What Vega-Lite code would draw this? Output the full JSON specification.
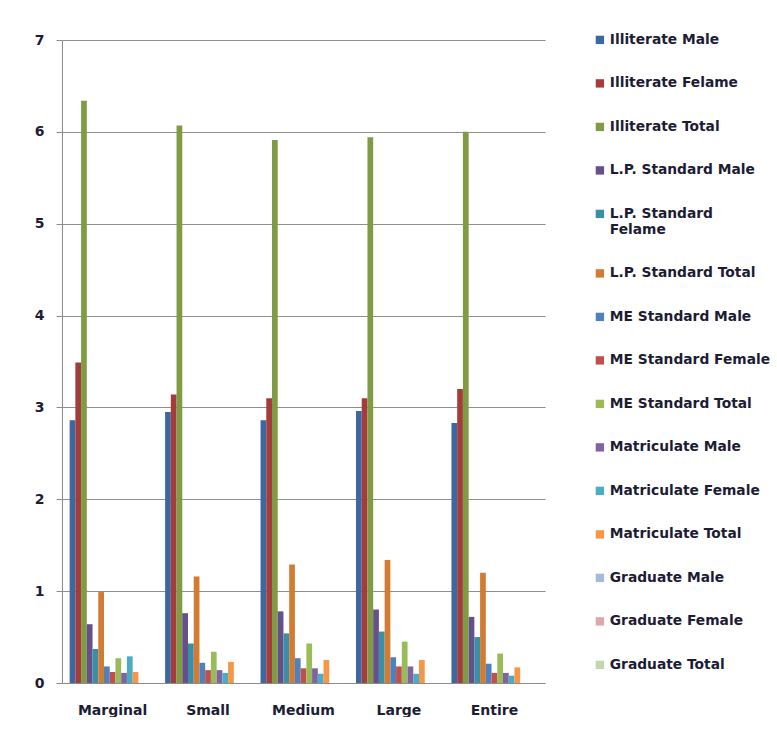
{
  "$schema": "https://vega.github.io/schema/vega-lite/v6.json",
  "width": 483,
  "height": 643,
  "padding": {"left": 34, "top": 33, "right": 0, "bottom": 0},
  "background": "white",
  "config": {
    "font": "DejaVu Sans",
    "view": {"stroke": null},
    "axis": {"labelFont": "DejaVu Sans", "labelFontWeight": "bold", "labelColor": "#1c1c34", "domainColor": "#8c8c8c", "tickColor": "#8c8c8c", "gridColor": "#8f8f8f"}
  },
  "data": {
    "values": [
      {"area": "Marginal", "series": "Illiterate Male", "value": 2.86},
      {"area": "Marginal", "series": "Illiterate Felame", "value": 3.49},
      {"area": "Marginal", "series": "Illiterate Total", "value": 6.34},
      {"area": "Marginal", "series": "L.P. Standard Male", "value": 0.64},
      {"area": "Marginal", "series": "L.P. Standard Felame", "value": 0.37},
      {"area": "Marginal", "series": "L.P. Standard  Total", "value": 0.99},
      {"area": "Marginal", "series": "ME Standard Male", "value": 0.18},
      {"area": "Marginal", "series": "ME Standard Female", "value": 0.12},
      {"area": "Marginal", "series": "ME Standard Total", "value": 0.27},
      {"area": "Marginal", "series": "Matriculate Male", "value": 0.11},
      {"area": "Marginal", "series": "Matriculate Female", "value": 0.29},
      {"area": "Marginal", "series": "Matriculate Total", "value": 0.12},
      {"area": "Marginal", "series": "Graduate Male", "value": 0},
      {"area": "Marginal", "series": "Graduate Female", "value": 0},
      {"area": "Marginal", "series": "Graduate Total", "value": 0},
      {"area": "Small", "series": "Illiterate Male", "value": 2.95},
      {"area": "Small", "series": "Illiterate Felame", "value": 3.14},
      {"area": "Small", "series": "Illiterate Total", "value": 6.07},
      {"area": "Small", "series": "L.P. Standard Male", "value": 0.76},
      {"area": "Small", "series": "L.P. Standard Felame", "value": 0.43},
      {"area": "Small", "series": "L.P. Standard  Total", "value": 1.16},
      {"area": "Small", "series": "ME Standard Male", "value": 0.22},
      {"area": "Small", "series": "ME Standard Female", "value": 0.14},
      {"area": "Small", "series": "ME Standard Total", "value": 0.34},
      {"area": "Small", "series": "Matriculate Male", "value": 0.14},
      {"area": "Small", "series": "Matriculate Female", "value": 0.11},
      {"area": "Small", "series": "Matriculate Total", "value": 0.23},
      {"area": "Small", "series": "Graduate Male", "value": 0},
      {"area": "Small", "series": "Graduate Female", "value": 0},
      {"area": "Small", "series": "Graduate Total", "value": 0},
      {"area": "Medium", "series": "Illiterate Male", "value": 2.86},
      {"area": "Medium", "series": "Illiterate Felame", "value": 3.10},
      {"area": "Medium", "series": "Illiterate Total", "value": 5.91},
      {"area": "Medium", "series": "L.P. Standard Male", "value": 0.78},
      {"area": "Medium", "series": "L.P. Standard Felame", "value": 0.54},
      {"area": "Medium", "series": "L.P. Standard  Total", "value": 1.29},
      {"area": "Medium", "series": "ME Standard Male", "value": 0.27},
      {"area": "Medium", "series": "ME Standard Female", "value": 0.16},
      {"area": "Medium", "series": "ME Standard Total", "value": 0.43},
      {"area": "Medium", "series": "Matriculate Male", "value": 0.16},
      {"area": "Medium", "series": "Matriculate Female", "value": 0.10},
      {"area": "Medium", "series": "Matriculate Total", "value": 0.25},
      {"area": "Medium", "series": "Graduate Male", "value": 0},
      {"area": "Medium", "series": "Graduate Female", "value": 0},
      {"area": "Medium", "series": "Graduate Total", "value": 0},
      {"area": "Large", "series": "Illiterate Male", "value": 2.96},
      {"area": "Large", "series": "Illiterate Felame", "value": 3.10},
      {"area": "Large", "series": "Illiterate Total", "value": 5.94},
      {"area": "Large", "series": "L.P. Standard Male", "value": 0.80},
      {"area": "Large", "series": "L.P. Standard Felame", "value": 0.56},
      {"area": "Large", "series": "L.P. Standard  Total", "value": 1.34},
      {"area": "Large", "series": "ME Standard Male", "value": 0.28},
      {"area": "Large", "series": "ME Standard Female", "value": 0.18},
      {"area": "Large", "series": "ME Standard Total", "value": 0.45},
      {"area": "Large", "series": "Matriculate Male", "value": 0.18},
      {"area": "Large", "series": "Matriculate Female", "value": 0.10},
      {"area": "Large", "series": "Matriculate Total", "value": 0.25},
      {"area": "Large", "series": "Graduate Male", "value": 0},
      {"area": "Large", "series": "Graduate Female", "value": 0},
      {"area": "Large", "series": "Graduate Total", "value": 0},
      {"area": "Entire", "series": "Illiterate Male", "value": 2.83},
      {"area": "Entire", "series": "Illiterate Felame", "value": 3.20},
      {"area": "Entire", "series": "Illiterate Total", "value": 6.00},
      {"area": "Entire", "series": "L.P. Standard Male", "value": 0.72},
      {"area": "Entire", "series": "L.P. Standard Felame", "value": 0.50},
      {"area": "Entire", "series": "L.P. Standard  Total", "value": 1.20},
      {"area": "Entire", "series": "ME Standard Male", "value": 0.21},
      {"area": "Entire", "series": "ME Standard Female", "value": 0.11},
      {"area": "Entire", "series": "ME Standard Total", "value": 0.32},
      {"area": "Entire", "series": "Matriculate Male", "value": 0.11},
      {"area": "Entire", "series": "Matriculate Female", "value": 0.08},
      {"area": "Entire", "series": "Matriculate Total", "value": 0.17},
      {"area": "Entire", "series": "Graduate Male", "value": 0},
      {"area": "Entire", "series": "Graduate Female", "value": 0},
      {"area": "Entire", "series": "Graduate Total", "value": 0}
    ]
  },
  "mark": {"type": "bar"},
  "encoding": {
    "x": {
      "field": "area",
      "type": "nominal",
      "sort": ["Marginal", "Small", "Medium", "Large", "Entire"],
      "scale": {"paddingInner": 0.1, "paddingOuter": 0.08},
      "axis": {"title": null, "labelAngle": 0, "labelFontSize": 14, "labelPadding": 20, "ticks": false, "domainColor": "#8c8c8c"}
    },
    "xOffset": {
      "field": "series",
      "type": "nominal",
      "sort": ["Illiterate Male", "Illiterate Felame", "Illiterate Total", "L.P. Standard Male", "L.P. Standard Felame", "L.P. Standard  Total", "ME Standard Male", "ME Standard Female", "ME Standard Total", "Matriculate Male", "Matriculate Female", "Matriculate Total", "Graduate Male", "Graduate Female", "Graduate Total"],
      "scale": {"paddingInner": 0, "paddingOuter": 0}
    },
    "y": {
      "field": "value",
      "type": "quantitative",
      "scale": {"domain": [0, 7], "nice": false},
      "axis": {"title": null, "values": [0, 1, 2, 3, 4, 5, 6, 7], "labelOverlap": false, "labelFontSize": 14, "tickSize": 6, "labelPadding": 12, "grid": true}
    },
    "color": {
      "field": "series",
      "type": "nominal",
      "scale": {
        "domain": ["Illiterate Male", "Illiterate Felame", "Illiterate Total", "L.P. Standard Male", "L.P. Standard Felame", "L.P. Standard  Total", "ME Standard Male", "ME Standard Female", "ME Standard Total", "Matriculate Male", "Matriculate Female", "Matriculate Total", "Graduate Male", "Graduate Female", "Graduate Total"],
        "range": ["#3D67A0", "#A33C3A", "#7F9C45", "#66508A", "#3A8EA5", "#D27B33", "#4F81BD", "#C0504D", "#9BBB59", "#8064A2", "#4BACC6", "#F79646", "#A7B9DA", "#DBA9A8", "#C4D6AE"]
      },
      "legend": {
        "title": null,
        "orient": "none",
        "legendX": 531,
        "legendY": -7,
        "symbolType": "square",
        "symbolSize": 70,
        "symbolStrokeWidth": 0,
        "labelFont": "DejaVu Sans",
        "labelFontSize": 13.8,
        "labelFontWeight": "bold",
        "labelColor": "#1c1c34",
        "labelLimit": 220,
        "labelOffset": 3,
        "rowPadding": 28.5,
        "labelExpr": "datum.label == 'L.P. Standard Felame' ? ['L.P. Standard', 'Felame'] : datum.label"
      }
    }
  }
}
